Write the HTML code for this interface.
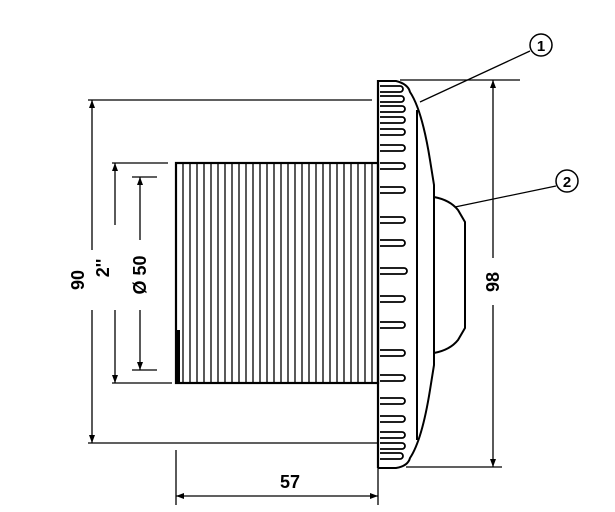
<!DOCTYPE html>
<html><head><meta charset="utf-8"><style>
html,body{margin:0;padding:0;background:#fff}
svg{display:block}
text{font-family:"Liberation Sans",sans-serif;font-weight:bold;fill:#000}
</style></head><body>
<svg width="615" height="512" viewBox="0 0 615 512" xmlns="http://www.w3.org/2000/svg">
<g stroke="#000" fill="none" stroke-width="1.6">
<!-- thread body -->
<rect x="176" y="163" width="202" height="220" stroke-width="2.2"/>
<g stroke-width="1.3">
<path d="M183 163V383M190 163V383M197 163V383M204 163V383M211 163V383M218 163V383M225 163V383M232 163V383M239 163V383M246 163V383M253 163V383M260 163V383M267 163V383M274 163V383M281 163V383M288 163V383M295 163V383M302 163V383M309 163V383M316 163V383M323 163V383M330 163V383M337 163V383M344 163V383M351 163V383M358 163V383M365 163V383M372 163V383"/>
</g>
<line x1="178" y1="330" x2="178" y2="383" stroke-width="4"/>
<!-- flange -->
<line x1="378" y1="80" x2="378" y2="468" stroke-width="2.2"/>
<path d="M378 81 H396 Q408 84 410 92 Q422 110 430 160 L434 185 V365 L430 390 Q422 440 410 458 Q408 466 396 468 H378" stroke-width="2"/>
<line x1="417" y1="110" x2="417" y2="440" stroke-width="2"/>
<path d="M434 197 Q450 200 458 210 L465 222 V328 L458 340 Q450 350 434 353" stroke-width="2"/>
<g stroke-width="1.8">
<path d="M380 86h20a3 3 0 0 1 0 6h-20M380 96h21a3 3 0 0 1 0 6h-21M380 106h22a3 3 0 0 1 0 6h-22M380 117h22a3 3 0 0 1 0 6h-22M380 129h22a3 3 0 0 1 0 6h-22M380 145h22a3 3 0 0 1 0 6h-22M380 163h22a3 3 0 0 1 0 6h-22M380 187h22a3 3 0 0 1 0 6h-22M380 217h22a3 3 0 0 1 0 6h-22M380 240h22a3 3 0 0 1 0 6h-22M380 268h24a3 3 0 0 1 0 6h-24M380 296h22a3 3 0 0 1 0 6h-22M380 322h22a3 3 0 0 1 0 6h-22M380 350h22a3 3 0 0 1 0 6h-22M380 375h22a3 3 0 0 1 0 6h-22M380 398h22a3 3 0 0 1 0 6h-22M380 416h22a3 3 0 0 1 0 6h-22M380 432h22a3 3 0 0 1 0 6h-22M380 443h22a3 3 0 0 1 0 6h-22M380 453h20a3 3 0 0 1 0 6h-20"/>
</g>
<!-- dims -->
<g stroke-width="1.3">
<line x1="88" y1="100" x2="372" y2="100"/>
<line x1="88" y1="443" x2="378" y2="443"/>
<line x1="92" y1="100" x2="92" y2="250"/><line x1="92" y1="310" x2="92" y2="443"/>
<line x1="112" y1="163" x2="168" y2="163"/>
<line x1="112" y1="383" x2="172" y2="383"/>
<line x1="115" y1="163" x2="115" y2="225"/><line x1="115" y1="310" x2="115" y2="383"/>
<line x1="132" y1="177" x2="157" y2="177"/>
<line x1="132" y1="370" x2="157" y2="370"/>
<line x1="140" y1="177" x2="140" y2="240"/><line x1="140" y1="310" x2="140" y2="370"/>
<line x1="400" y1="80" x2="520" y2="80"/>
<line x1="406" y1="467" x2="502" y2="467"/>
<line x1="493" y1="80" x2="493" y2="258"/><line x1="493" y1="305" x2="493" y2="467"/>
<line x1="176" y1="450" x2="176" y2="505"/>
<line x1="378" y1="455" x2="378" y2="505"/>
<line x1="176" y1="496" x2="378" y2="496"/>
<line x1="420" y1="102" x2="530" y2="51"/>
<line x1="455" y1="207" x2="556" y2="186"/>
</g>
<circle cx="541" cy="45" r="11" stroke-width="1.5"/>
<circle cx="567" cy="181" r="11" stroke-width="1.5"/>
</g>
<g fill="#000">
<path d="M92 100l-3 8h6zM92 443l-3 -8h6zM115 163l-3 8h6zM115 383l-3 -8h6zM140 177l-3 8h6zM140 370l-3 -8h6zM493 80l-3 8h6zM493 467l-3 -8h6zM176 496l8 -3v6zM378 496l-8 -3v6z"/>
</g>
<text transform="translate(84,280) rotate(-90)" font-size="18" text-anchor="middle">90</text>
<text transform="translate(109,268) rotate(-90)" font-size="18" text-anchor="middle">2''</text>
<text transform="translate(146,275) rotate(-90)" font-size="18" text-anchor="middle">Ø 50</text>
<text transform="translate(499,282) rotate(-90)" font-size="18" text-anchor="middle">98</text>
<text x="290" y="488" font-size="18" text-anchor="middle">57</text>
<text x="541" y="51" font-size="15" text-anchor="middle" font-weight="normal">1</text>
<text x="567" y="187" font-size="15" text-anchor="middle" font-weight="normal">2</text>
</svg>
</body></html>
